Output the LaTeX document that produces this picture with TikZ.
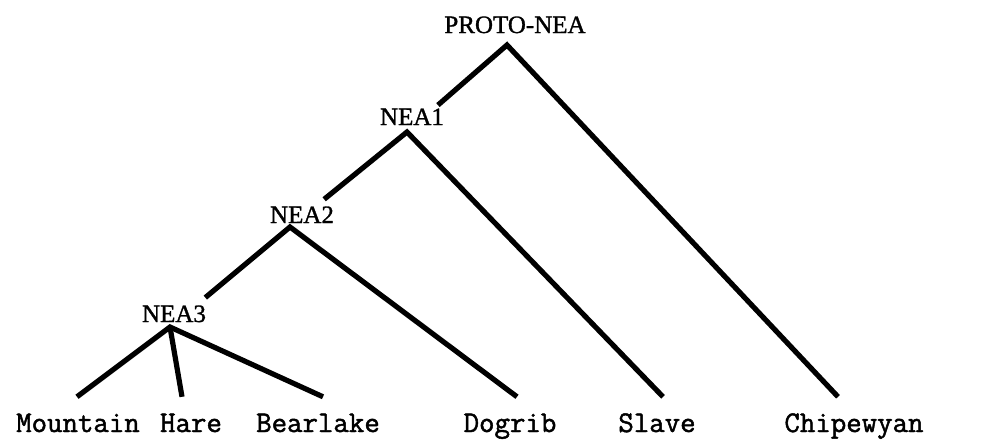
\documentclass[tikz,border=0pt]{standalone}
\usepackage{fontspec}
\setmainfont{Liberation Serif}
\newfontfamily\labfont{Liberation Serif}[FakeBold=1.2]
\newfontfamily\leaffont{Latin Modern Mono}[FakeBold=1.6]
\begin{document}
\begin{tikzpicture}[x=1pt,y=-1pt,
  inner/.style={anchor=base,inner sep=0pt,text depth=0pt,font=\labfont\fontsize{25}{25}\selectfont},
  leaf/.style={anchor=base,inner sep=0pt,text depth=0pt,text height=35pt,font=\leaffont\fontsize{30}{30}\selectfont},
  branch/.style={line width=5.2pt,line join=miter}]
\useasboundingbox (0,0) rectangle (1001,442);
% labels
\node[inner] (proto) at (515,33) {PROTO-NEA};
\node[inner] (nea1) at (412,125) {NEA1};
\node[inner] (nea2) at (302,223) {NEA2};
\node[inner] (nea3) at (174,322) {NEA3};
\node[leaf] (mount) at (78,432) {Mountain};
\node[leaf] (hare) at (191,432) {Hare};
\node[leaf] (bear) at (318,432) {Bearlake};
\node[leaf] (dog) at (510,432) {Dogrib};
\node[leaf] (slave) at (657,432) {Slave};
\node[leaf] (chip) at (854,432) {Chipewyan};
% junctions
\coordinate (j0) at ([shift={(-8,12)}]proto.base);
\coordinate (j1) at ([shift={(-5,7)}]nea1.base);
\coordinate (j2) at ([shift={(-12,4)}]nea2.base);
\coordinate (j3) at ([shift={(-4,5)}]nea3.base);
% branches
\draw[branch,shorten <=41pt] (j1) -- (j0) -- ([xshift=-16pt]chip.north);
\draw[branch,shorten <=44pt] (j2) -- (j1) -- ([xshift=6pt]slave.north);
\draw[branch,shorten <=46pt] (j3) -- (j2) -- ([xshift=7pt]dog.north);
\draw[branch] ([xshift=-1pt]mount.north) -- (j3) -- ([xshift=5pt]bear.north);
\draw[branch] (j3) -- ([xshift=-9pt]hare.north);
\end{tikzpicture}
\end{document}
